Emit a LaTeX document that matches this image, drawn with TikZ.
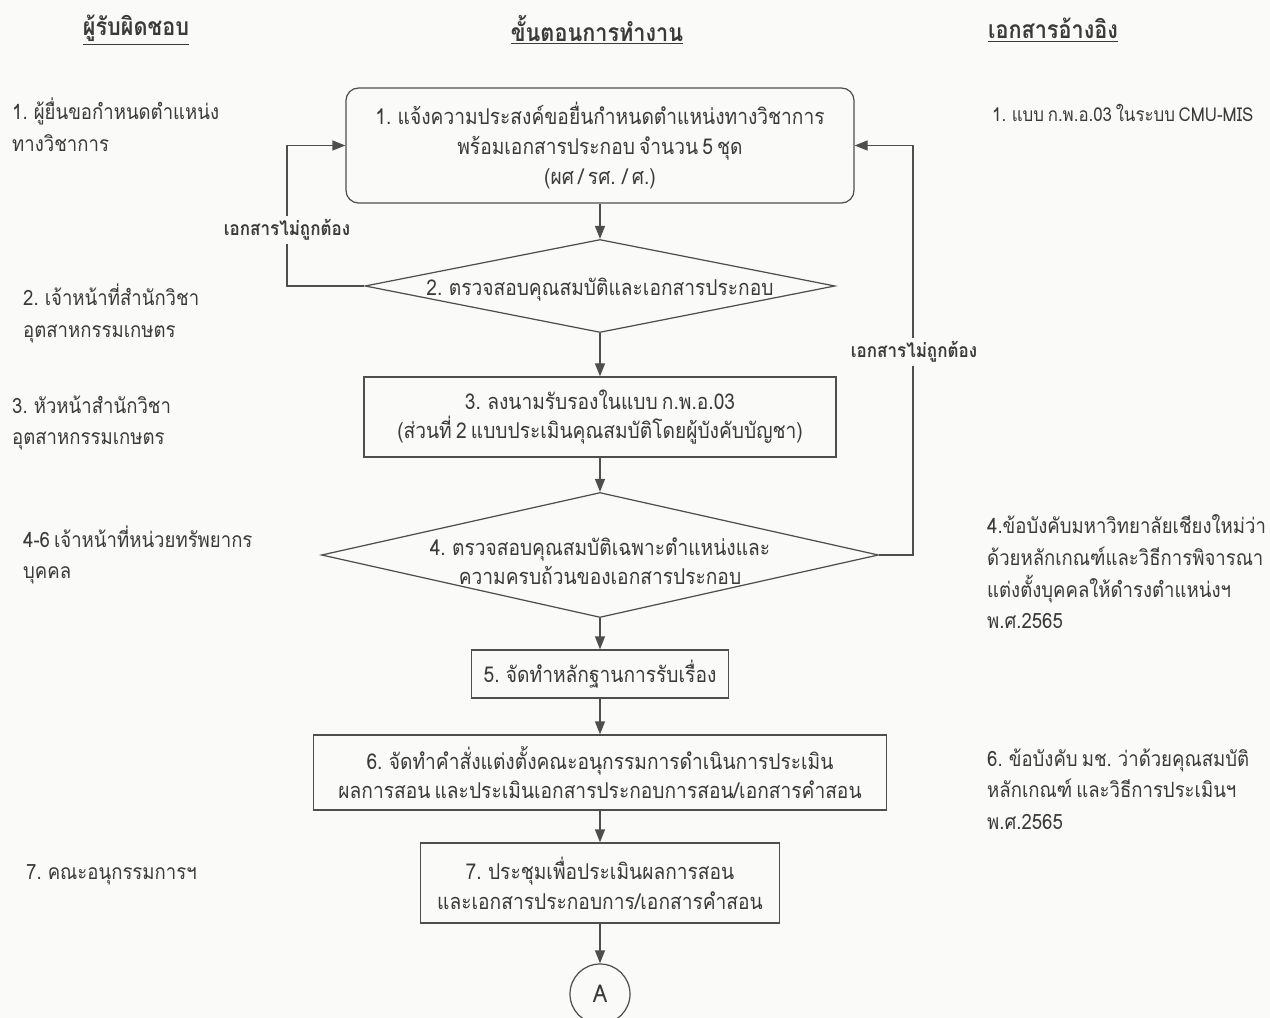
\documentclass[tikz,border=0pt]{standalone}
\usepackage{fontspec}
\setmainfont[Script=Thai, FakeStretch=0.88, WordSpace=0.65]{Loma}
\usepackage{tikz}
\usetikzlibrary{arrows.meta,positioning,shapes.geometric}
\usepackage{xcolor}
\definecolor{ink}{HTML}{3A3A3A}
\definecolor{edge}{HTML}{4E4E4E}
\definecolor{paper}{HTML}{FAFAF8}

\tikzset{
  stepbox/.style={draw=edge, line width=0.7pt, align=center, text=ink,
    font=\fontsize{12.4}{17}\selectfont, inner sep=0pt},
  decision/.style={draw=edge, line width=0.7pt, diamond, inner sep=0pt},
  steptext/.style={align=center, text=ink, font=\fontsize{12.4}{16.5}\selectfont},
  sidetext/.style={anchor=west, align=left, text=ink, font=\fontsize{12}{18}\selectfont},
  head/.style={text=ink, font=\fontsize{14}{16}\bfseries},
  errlabel/.style={fill=paper, text=ink, inner sep=2pt, font=\fontsize{11}{13}\bfseries},
  flow/.style={draw=edge, line width=0.7pt, -{Triangle[length=2.6mm,width=2mm]}},
}

\begin{document}
\begin{tikzpicture}
  % Page
  \fill[paper] (0,0) rectangle (25.4,-20.36);
  \useasboundingbox (0,0) rectangle (25.4,-20.36);

  % Column headings
  \node[head] (hwho) at (2.72,-0.6) {\underline{ผู้รับผิดชอบ}};
  \node[head] (hstep) at (11.94,-0.6) {\underline{ขั้นตอนการทำงาน}};
  \node[head] (hdoc) at (21.06,-0.6) {\underline{เอกสารอ้างอิง}};

  % Responsible persons
  \node[sidetext] (who1) at (0.12,-2.5) {1. ผู้ยื่นขอกำหนดตำแหน่ง\\ทางวิชาการ};
  \node[sidetext] (who2) at (0.34,-6.27) {2. เจ้าหน้าที่สำนักวิชา\\อุตสาหกรรมเกษตร};
  \node[sidetext] (who3) at (0.12,-8.46) {3. หัวหน้าสำนักวิชา\\อุตสาหกรรมเกษตร};
  \node[sidetext] (who4) at (0.34,-11.1) {4-6 เจ้าหน้าที่หน่วยทรัพยากร\\บุคคล};
  \node[sidetext] (who7) at (0.4,-17.5) {7. คณะอนุกรรมการฯ};

  % Reference documents
  \node[sidetext, font=\fontsize{10.9}{16}\selectfont] (doc1) at (19.72,-2.26) {1. แบบ ก.พ.อ.03 ในระบบ CMU-MIS};
  \node[sidetext] (doc4) at (19.62,-11.44) {4.ข้อบังคับมหาวิทยาลัยเชียงใหม่ว่า\\ด้วยหลักเกณฑ์และวิธีการพิจารณา\\แต่งตั้งบุคคลให้ดำรงตำแหน่งฯ\\พ.ศ.2565};
  \node[sidetext] (doc6) at (19.62,-15.78) {6. ข้อบังคับ มช. ว่าด้วยคุณสมบัติ\\หลักเกณฑ์ และวิธีการประเมินฯ\\พ.ศ.2565};

  % Steps
  \node[stepbox, rounded corners=0.25cm, minimum width=10.16cm, minimum height=2.3cm]
    (apply) at (12,-2.91) {1. แจ้งความประสงค์ขอยื่นกำหนดตำแหน่งทางวิชาการ\\พร้อมเอกสารประกอบ จำนวน 5 ชุด\\(ผศ / รศ. / ศ.)};
  \node[decision, minimum width=9.4cm, minimum height=1.86cm] (chk2) at (12,-5.72) {};
  \node[steptext, yshift=-0.08cm] (chk2t) at (chk2) {2. ตรวจสอบคุณสมบัติและเอกสารประกอบ};
  \node[stepbox, minimum width=9.44cm, minimum height=1.6cm]
    (sign) at (12,-8.34) {3. ลงนามรับรองในแบบ ก.พ.อ.03\\(ส่วนที่ 2 แบบประเมินคุณสมบัติโดยผู้บังคับบัญชา)};
  \node[decision, minimum width=11.14cm, minimum height=2.5cm] (chk4) at (12,-11.1) {};
  \node[steptext, yshift=-0.12cm] (chk4t) at (chk4) {4. ตรวจสอบคุณสมบัติเฉพาะตำแหน่งและ\\ความครบถ้วนของเอกสารประกอบ};
  \node[stepbox, minimum width=5.14cm, minimum height=0.96cm] (proof) at (12,-13.48) {5. จัดทำหลักฐานการรับเรื่อง};
  \node[stepbox, minimum width=11.46cm, minimum height=1.5cm]
    (order) at (12,-15.45) {6. จัดทำคำสั่งแต่งตั้งคณะอนุกรรมการดำเนินการประเมิน\\ผลการสอน และประเมินเอกสารประกอบการสอน/เอกสารคำสอน};
  \node[stepbox, minimum width=7.18cm, minimum height=1.6cm]
    (meet) at (12,-17.66) {7. ประชุมเพื่อประเมินผลการสอน\\และเอกสารประกอบการ/เอกสารคำสอน};
  \node[stepbox, circle, minimum size=1.2cm, font=\fontsize{14}{16}\selectfont] (goA) at (12,-19.88) {A};

  % Main flow
  \draw[flow] (apply) -- (chk2);
  \draw[flow] (chk2) -- (sign);
  \draw[flow] (sign) -- (chk4);
  \draw[flow] (chk4) -- (proof);
  \draw[flow] (proof) -- (order);
  \draw[flow] (order) -- (meet);
  \draw[flow] (meet) -- (goA);

  % Returns when documents are wrong
  \coordinate (backL) at (5.74,-2.91);
  \coordinate (backR) at (18.26,-2.91);
  \draw[flow] (chk2.west) -| (backL) -- (apply.west);
  \draw[flow] (chk4.east) -| (backR) -- (apply.east);
  \node[errlabel] (errL) at (5.74,-4.6) {เอกสารไม่ถูกต้อง};
  \node[errlabel] (errR) at (18.28,-7.04) {เอกสารไม่ถูกต้อง};
\end{tikzpicture}
\end{document}
